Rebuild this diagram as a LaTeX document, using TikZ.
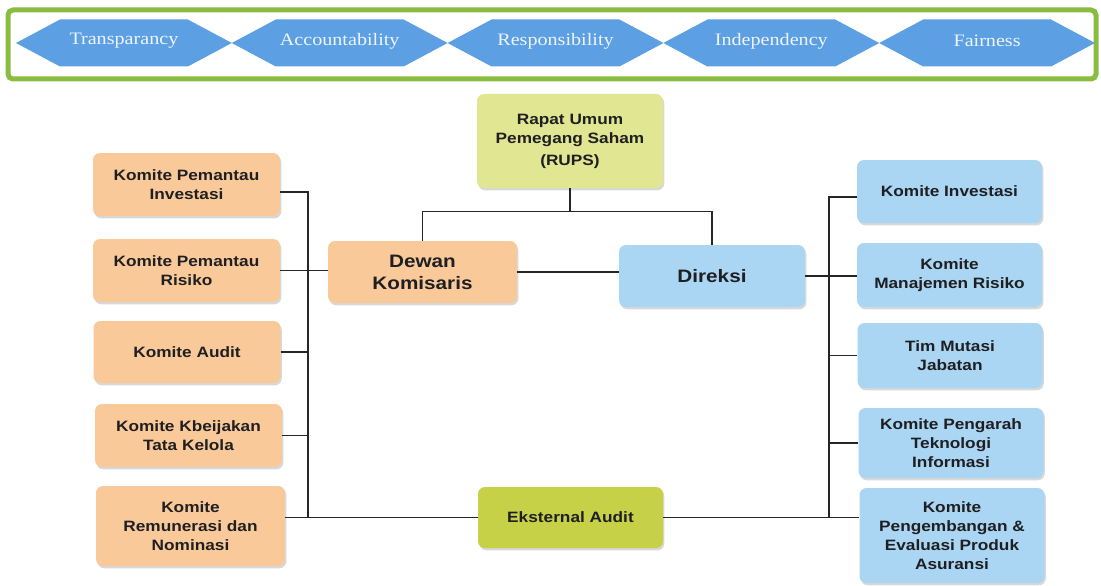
\documentclass[tikz,border=0pt]{standalone}
\usepackage{fontspec}
\newfontfamily\boxfont[FakeStretch=1.15]{Liberation Sans}
\newfontfamily\banfont[FakeStretch=1.15]{Liberation Serif}
\usetikzlibrary{shadows,calc}
\definecolor{bgreen}{HTML}{8BBC42}
\definecolor{hexblue}{HTML}{5C9FE3}
\definecolor{bantxt}{HTML}{EEF4FA}
\definecolor{orangebox}{HTML}{F9C99A}
\definecolor{bluebox}{HTML}{AAD5F3}
\definecolor{rupsbox}{HTML}{E0E691}
\definecolor{auditbox}{HTML}{C6D147}
\definecolor{txt}{HTML}{1F1F22}
\definecolor{conn}{HTML}{262626}
\tikzset{
  box/.style={rounded corners=7pt, inner sep=2pt, align=center, text=txt,
    font={\boxfont\bfseries\fontsize{15}{19}\selectfont},
    drop shadow={shadow xshift=1.3pt, shadow yshift=-2.3pt, fill=black!30, opacity=0.5}},
  bigbox/.style={box, font={\boxfont\bfseries\fontsize{18}{22}\selectfont}},
  obox/.style={box, fill=orangebox},
  bbox/.style={box, fill=bluebox},
  bantext/.style={text=bantxt, font={\banfont\fontsize{17.5}{20}\selectfont}, inner sep=0pt},
  link/.style={draw=conn, line width=1.4pt}
}
\begin{document}
\begin{tikzpicture}[x=1pt,y=-1pt]
\useasboundingbox (0,0) rectangle (1101,586);
\fill[white] (0,0) rectangle (1101,586);
% banner
\draw[bgreen, line width=5pt, rounded corners=5pt, fill=white] (8,10) rectangle (1096,79);
\foreach \i/\t in {0/Transparancy,1/Accountability,2/Responsibility,3/Independency,4/Fairness}{
  \pgfmathsetmacro\xa{16+215.8*\i}
  \pgfmathsetmacro\xb{16+215.8*(\i+1)}
  \fill[hexblue] (\xa,43) -- (\xa+44,19.5) -- (\xb-44,19.5) -- (\xb,43) -- (\xb-44,66.5) -- (\xa+44,66.5) -- cycle;
  \node[bantext] (h\i) at ({(\xa+\xb)/2},41) {\t};
}
% main nodes
\node[box, fill=rupsbox, minimum width=186pt, minimum height=94pt] (rups) at (570,141)
  {Rapat Umum\\Pemegang Saham\\[3pt](RUPS)};
\node[bigbox, fill=orangebox, minimum width=189pt, minimum height=62pt] (dewan) at (422.5,272) {Dewan\\Komisaris};
\node[bigbox, fill=bluebox, minimum width=186pt, minimum height=62pt] (direksi) at (712,276) {Direksi};
\node[box, fill=auditbox, minimum width=185pt, minimum height=61pt] (eks) at (570.5,517.5) {Eksternal Audit};
% left committees
\node[obox, minimum width=187pt, minimum height=63pt] (l1) at (186.5,184.5) {Komite Pemantau\\Investasi};
\node[obox, minimum width=187pt, minimum height=63pt] (l2) at (186.5,270.5) {Komite Pemantau\\Risiko};
\node[obox, minimum width=187pt, minimum height=62pt] (l3) at (187,352) {Komite Audit};
\node[obox, minimum width=187pt, minimum height=63pt] (l4) at (188.5,435.5) {Komite Kbeijakan\\Tata Kelola};
\node[obox, minimum width=189pt, minimum height=80pt] (l5) at (190.5,526) {Komite\\Remunerasi dan\\Nominasi};
% right committees
\node[bbox, minimum width=185pt, minimum height=63pt] (r1) at (949.5,191.5) {Komite Investasi};
\node[bbox, minimum width=185pt, minimum height=64pt] (r2) at (949.5,275) {Komite\\Manajemen Risiko};
\node[bbox, minimum width=185pt, minimum height=65pt] (r3) at (950,355.5) {Tim Mutasi\\Jabatan};
\node[bbox, minimum width=185pt, minimum height=70pt] (r4) at (951,443) {Komite Pengarah\\Teknologi\\Informasi};
\node[bbox, minimum width=185pt, minimum height=95pt] (r5) at (952,535.5) {Komite\\Pengembangan \&\\Evaluasi Produk\\Asuransi};
% connectors
\coordinate (rj) at ($(rups.south)+(0,23)$);
\coordinate (lbtop) at (308,192);
\coordinate (rbtop) at (829,197);
\draw[link] (rups.south) -- (rj);
\draw[link] (dewan.north) |- (rj) -| (direksi.north);
\draw[link] (dewan.east) -- (dewan.east -| direksi.west);
\draw[link] (l1.east |- lbtop) -- (lbtop) -- (lbtop |- eks.west);
\draw[link] (l2.east) -- (l2.east -| dewan.west);
\draw[link] (l3.east) -- (l3.east -| lbtop);
\draw[link] (l4.east) -- (l4.east -| lbtop);
\draw[link] (l5.east |- eks.west) -- (eks.west);
\draw[link] (r1.west |- rbtop) -- (rbtop) -- (rbtop |- eks.east);
\draw[link] (direksi.east) -- (direksi.east -| r2.west);
\draw[link] (r3.west) -- (r3.west -| rbtop);
\draw[link] (r4.west) -- (r4.west -| rbtop);
\draw[link] (eks.east) -- (eks.east -| r5.west);
\end{tikzpicture}
\end{document}
